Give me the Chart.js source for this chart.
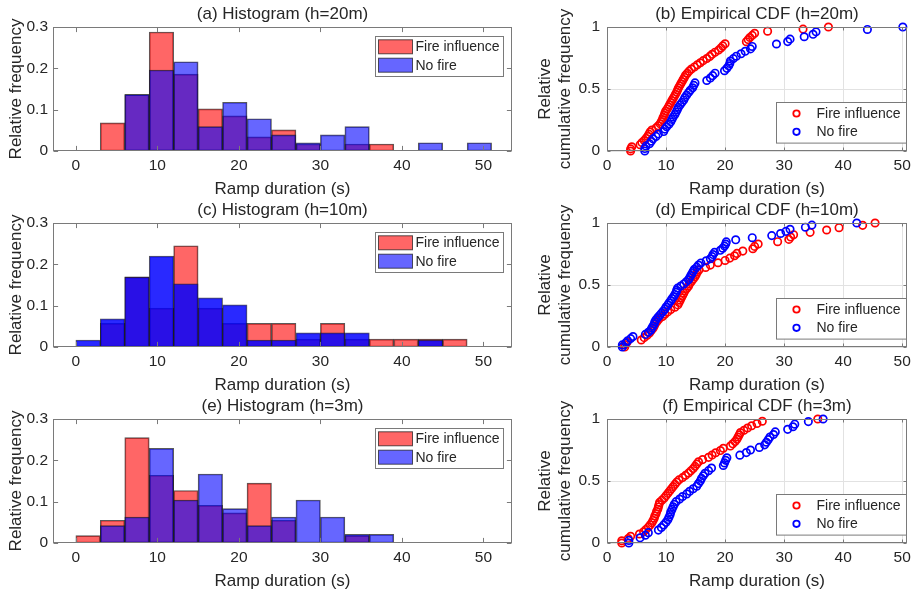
<!DOCTYPE html>
<html>
<head>
<meta charset="utf-8">
<script src="https://cdn.jsdelivr.net/npm/chart.js@4.4.1/dist/chart.umd.min.js"></script>
<style>
  html, body { margin: 0; padding: 0; background: #fff; width: 916px; height: 595px; overflow: hidden; }
  canvas { position: absolute; }
</style>
</head>
<body>
<canvas id="ha" width="520" height="200" style="left:0px;top:0px"></canvas>
<canvas id="hc" width="520" height="200" style="left:0px;top:196px"></canvas>
<canvas id="he" width="520" height="200" style="left:0px;top:392px"></canvas>
<canvas id="cb" width="396" height="200" style="left:520px;top:0px"></canvas>
<canvas id="cd" width="396" height="200" style="left:520px;top:196px"></canvas>
<canvas id="cf" width="396" height="200" style="left:520px;top:392px"></canvas>
<script>
// ---------------- DATA ----------------
const seriesNames = ['Fire influence', 'No fire'];
const binCenters = [1.5, 4.5, 7.5, 10.5, 13.5, 16.5, 19.5, 22.5, 25.5, 28.5, 31.5, 34.5, 37.5, 40.5, 43.5, 46.5, 49.5];
const histTicksX = [0, 10, 20, 30, 40, 50];
const histTicksY = [0, 0.1, 0.2, 0.3];
const cdfTicksX = [0, 10, 20, 30, 40, 50];
const cdfTicksY = [0, 0.5, 1];

// Histograms: relative frequency per 3-s bin
const hist20Fire   = [0, 0.068, 0.136, 0.288, 0.186, 0.102, 0.085, 0.034, 0.051, 0.017, 0, 0.017, 0.017, 0, 0, 0, 0];
const hist20NoFire = [0, 0, 0.137, 0.196, 0.216, 0.059, 0.118, 0.078, 0.039, 0.020, 0.039, 0.059, 0, 0, 0.020, 0, 0.020];
const hist10Fire   = [0, 0.057, 0.170, 0.094, 0.245, 0.094, 0.057, 0.057, 0.057, 0.019, 0.057, 0.019, 0.019, 0.019, 0.019, 0.019, 0];
const hist10NoFire = [0.017, 0.068, 0.169, 0.220, 0.153, 0.119, 0.102, 0.017, 0.017, 0.034, 0.034, 0.034, 0, 0, 0.017, 0, 0];
const hist3Fire    = [0.018, 0.055, 0.255, 0.164, 0.127, 0.091, 0.073, 0.145, 0.055, 0, 0, 0.018, 0, 0, 0, 0, 0];
const hist3NoFire  = [0, 0.042, 0.063, 0.229, 0.104, 0.167, 0.083, 0.042, 0.063, 0.104, 0.063, 0.021, 0.021, 0, 0, 0, 0];

// Empirical CDFs: sorted ramp durations (s)
const cdf20Fire = [4.0, 4.2, 5.6, 5.9,
  6.3, 6.6, 6.9, 7.1, 7.3, 7.6, 8.3, 8.7,
  9.0, 9.2, 9.4, 9.5, 9.7, 9.8, 9.95, 10.2, 10.4, 10.6, 10.8, 11.0, 11.2, 11.4, 11.6, 11.8, 11.95,
  12.1, 12.3, 12.5, 12.7, 12.9, 13.1, 13.3, 13.6, 13.9, 14.3, 14.8,
  15.3, 15.8, 16.3, 16.9, 17.4, 17.8,
  18.3, 18.9, 19.3, 19.6, 20.0,
  23.6, 23.9, 24.2, 24.6, 25.0,
  27.2, 33.2, 37.5];
const cdf20NoFire = [6.4, 6.6, 7.2, 7.5, 7.8, 8.3, 8.7,
  9.6, 9.8, 10.1, 10.5, 10.8, 11.0, 11.2, 11.5, 11.7, 11.9,
  12.1, 12.4, 12.7, 13.0, 13.2, 13.5, 13.8, 14.1, 14.5, 14.7, 14.9,
  16.9, 17.5, 17.9,
  18.3, 19.9, 20.3, 20.6, 20.8, 20.9,
  21.4, 21.9, 22.7, 23.4,
  24.3, 24.6, 28.7, 30.6, 31.0,
  33.4, 34.9, 35.4, 44.1, 50.1];
const cdf10Fire = [3.0, 3.4, 5.8,
  6.3, 6.8, 7.2, 7.5, 7.8, 8.0, 8.2, 8.5, 8.8,
  9.4, 9.8, 10.3, 10.8, 11.5,
  12.0, 12.2, 12.4, 12.6, 12.8, 13.0, 13.2, 13.5, 13.8, 14.0, 14.3, 14.6, 14.9,
  15.1, 15.3, 15.6, 16.7, 17.5,
  18.8, 20.0, 20.8, 21.6, 22.0, 23.0,
  24.7, 25.0, 25.6, 28.9,
  30.8, 31.1, 31.6, 34.4, 37.2, 39.3, 43.3, 45.4];
const cdf10NoFire = [2.6, 3.2, 3.5, 4.0, 4.4,
  6.5, 7.0, 7.4, 7.6, 7.8, 8.0, 8.1, 8.3, 8.6, 8.9,
  9.2, 9.5, 9.8, 10.0, 10.3, 10.5, 10.8, 11.0, 11.3, 11.5, 11.7, 11.8, 11.95,
  12.5, 13.0, 13.4, 13.8, 14.0, 14.2, 14.4, 14.6, 14.8,
  15.2, 15.5, 15.9, 16.8, 17.5, 17.8, 17.95,
  18.2, 19.2, 19.6, 19.9, 20.1, 20.2,
  21.8, 24.6, 27.9, 29.4, 30.3, 31.0, 33.6, 34.7, 42.3];
const cdf3Fire = [2.5, 3.6, 4.0, 5.5,
  6.2, 6.6, 7.0, 7.3, 7.6, 7.8, 8.0, 8.1, 8.3, 8.4, 8.6, 8.7, 8.8, 8.9,
  9.3, 9.7, 10.0, 10.3, 10.6, 10.9, 11.2, 11.5, 11.8,
  12.2, 12.8, 13.3, 13.8, 14.2, 14.6, 14.9,
  15.2, 15.5, 16.2, 17.2, 17.8,
  18.4, 19.2, 19.7, 20.9,
  21.3, 21.7, 22.0, 22.2, 22.4, 22.6, 23.2, 23.8,
  24.5, 25.4, 26.3, 35.7];
const cdf3NoFire = [3.7, 5.6, 6.5, 7.0, 8.7,
  9.2, 9.6, 10.0, 10.3, 10.5, 10.7, 10.8, 11.0, 11.2, 11.4, 11.7,
  12.3, 12.8, 13.5, 14.0, 14.6,
  15.2, 15.5, 15.8, 16.0, 16.3, 16.6, 17.2, 17.7,
  19.7, 19.9, 20.1, 20.3, 22.5, 23.6,
  24.3, 25.8, 26.7, 27.0, 27.3, 27.6, 28.2, 28.5,
  30.6, 31.5, 31.8, 34.1, 36.6];

// ---------------- STYLE ----------------
const FONT = '"Liberation Sans", Arial, Helvetica, sans-serif';
const TEXT = '#262626';
const AXIS = '#7a7a7a';
const RED_FILL = 'rgba(255,0,0,0.6)';
const BLUE_FILL = 'rgba(0,0,255,0.6)';
const BLUE_FILL_DOUBLE = 'rgba(0,0,255,0.84)';
const EDGE = 'rgba(20,20,20,0.7)';
Chart.defaults.font.family = FONT;
Chart.defaults.color = TEXT;

const matlabAxes = {
  id: 'matlabAxes',
  afterDatasetsDraw(chart, args, opts) {
    const { ctx, chartArea: a, scales } = chart;
    const L = Math.round(a.left) + 0.5, R = Math.round(a.right) - 0.5;
    const T = Math.round(a.top) + 0.5, B = Math.round(a.bottom) - 0.5;
    const tl = opts.tickLen;
    ctx.save();
    ctx.strokeStyle = AXIS;
    ctx.lineWidth = 1;
    ctx.beginPath();
    scales.x.ticks.forEach(t => {
      const p = Math.round(scales.x.getPixelForValue(t.value)) + 0.5;
      ctx.moveTo(p, B); ctx.lineTo(p, B - tl);
      ctx.moveTo(p, T); ctx.lineTo(p, T + tl);
    });
    scales.y.ticks.forEach(t => {
      const p = Math.round(scales.y.getPixelForValue(t.value)) + 0.5;
      ctx.moveTo(L, p); ctx.lineTo(L + tl, p);
      ctx.moveTo(R, p); ctx.lineTo(R - tl, p);
    });
    ctx.stroke();
    ctx.strokeRect(L, T, R - L, B - T);
    ctx.restore();
  }
};

const boxLegend = {
  id: 'boxLegend',
  afterDraw(chart, args, opts) {
    const { ctx, chartArea: a } = chart;
    ctx.save();
    let bx, by, bw, bh, rows;
    if (opts.kind === 'patch') {
      bw = 128; bh = 40; bx = a.right - 9 - bw; by = a.top + 9; rows = [10.3, 28.7];
    } else {
      bw = 130; bh = 40.6; bx = a.right - 1 - bw; by = a.bottom - 8.7 - bh; rows = [11, 29.3];
    }
    bx = Math.round(bx) + 0.5; by = Math.round(by) + 0.5;
    ctx.fillStyle = '#ffffff';
    ctx.fillRect(bx, by, bw, bh);
    ctx.strokeStyle = AXIS; ctx.lineWidth = 1;
    ctx.strokeRect(bx, by, bw, bh);
    chart.data.datasets.forEach((ds, i) => {
      const cy = by + rows[i];
      if (opts.kind === 'patch') {
        ctx.fillStyle = ds.legendFill;
        ctx.fillRect(bx + 3, cy - 7, 34, 14);
        ctx.strokeStyle = EDGE;
        ctx.strokeRect(bx + 3, cy - 7, 34, 14);
      } else {
        ctx.beginPath();
        ctx.arc(bx + 20, cy, 3.2, 0, Math.PI * 2);
        ctx.strokeStyle = ds.borderColor; ctx.lineWidth = 1.8;
        ctx.stroke();
      }
      ctx.fillStyle = TEXT;
      ctx.font = '14px ' + FONT;
      ctx.textBaseline = 'middle';
      ctx.textAlign = 'left';
      ctx.fillText(ds.label, bx + 40, cy + 0.5);
    });
    ctx.restore();
  }
};

function ticksFrom(arr) {
  return s => { s.ticks = arr.map(v => ({ value: v })); };
}

function baseOptions(title, xMin, xMax, xTicks, yMin, yMax, yTicks, yWidth, yTitle, yTitlePad, yTickPad, grid, tickLen, legendKind, rightPad) {
  const gridOpt = grid
    ? { display: true, drawTicks: false, color: '#e2e2e2', lineWidth: 1, offset: false }
    : { display: false, drawTicks: false, offset: false };
  return {
    responsive: false,
    animation: false,
    events: [],
    layout: { padding: { top: 4.6, right: rightPad, bottom: 0, left: 0 } },
    plugins: {
      legend: { display: false },
      tooltip: { enabled: false },
      title: { display: true, text: title, fullSize: false, color: TEXT,
               font: { size: 17, weight: 'normal', lineHeight: 1.2 }, padding: { top: 0, bottom: 2 } },
      matlabAxes: { tickLen: tickLen },
      boxLegend: { kind: legendKind }
    },
    scales: {
      x: {
        type: 'linear', min: xMin, max: xMax, offset: false,
        afterBuildTicks: ticksFrom(xTicks),
        afterFit: s => { s.height = 49; },
        grid: gridOpt, border: { display: false },
        ticks: { padding: 5, color: TEXT, font: { size: 15.5, lineHeight: 1.2 }, maxRotation: 0, autoSkip: false, callback: v => String(v) },
        title: { display: true, text: 'Ramp duration (s)', color: TEXT, font: { size: 17, lineHeight: 1.2 }, padding: { top: 0, bottom: 0.8 } }
      },
      y: {
        type: 'linear', min: yMin, max: yMax, offset: false,
        afterBuildTicks: ticksFrom(yTicks),
        afterFit: s => { s.width = yWidth; },
        grid: gridOpt, border: { display: false },
        ticks: { padding: yTickPad, color: TEXT, font: { size: 15.5, lineHeight: 1.2 }, autoSkip: false, callback: v => String(v) },
        title: { display: true, text: yTitle, color: TEXT, font: { size: 17, lineHeight: 1.2 }, padding: { top: yTitlePad, bottom: 0 } }
      }
    }
  };
}

function histChart(id, title, fire, noFire, blueFill) {
  const mk = (vals) => binCenters.map((x, i) => ({ x: x, y: vals[i] > 0 ? vals[i] : null }));
  const common = { borderColor: EDGE, borderWidth: 1, borderSkipped: false, grouped: false, barPercentage: 1, categoryPercentage: 1 };
  return new Chart(document.getElementById(id), {
    type: 'bar',
    data: {
      datasets: [
        Object.assign({ label: seriesNames[0], data: mk(fire), backgroundColor: RED_FILL, legendFill: RED_FILL, order: 2 }, common),
        Object.assign({ label: seriesNames[1], data: mk(noFire), backgroundColor: blueFill, legendFill: BLUE_FILL, order: 1 }, common)
      ]
    },
    options: baseOptions(title, -2.8, 53.5, histTicksX, 0, 0.3, histTicksY, 53, 'Relative frequency', 6, 5, false, 4.6, 'patch', 8),
    plugins: [matlabAxes, boxLegend]
  });
}

function ecdf(xs) {
  const n = xs.length;
  const pts = [{ x: xs[0], y: 0 }];
  xs.forEach((x, i) => pts.push({ x: x, y: (i + 1) / n }));
  return pts;
}

function cdfChart(id, title, fire, noFire) {
  const common = { showLine: false, pointStyle: 'circle', pointRadius: 3.7, pointBorderWidth: 1.7, backgroundColor: 'rgba(0,0,0,0)', pointBackgroundColor: 'rgba(0,0,0,0)', clip: false };
  return new Chart(document.getElementById(id), {
    type: 'scatter',
    data: {
      datasets: [
        Object.assign({ label: seriesNames[0], data: ecdf(fire), borderColor: '#ff0000', pointBorderColor: '#ff0000', order: 2 }, common),
        Object.assign({ label: seriesNames[1], data: ecdf(noFire), borderColor: '#0000ff', pointBorderColor: '#0000ff', order: 1 }, common)
      ]
    },
    options: baseOptions(title, 0, 50.8, cdfTicksX, 0, 1, cdfTicksY, 87, ['Relative', 'cumulative frequency'], 14.8, 7, true, 3, 'marker', 9),
    plugins: [matlabAxes, boxLegend]
  });
}

histChart('ha', '(a) Histogram (h=20m)', hist20Fire, hist20NoFire, BLUE_FILL);
histChart('hc', '(c) Histogram (h=10m)', hist10Fire, hist10NoFire, BLUE_FILL_DOUBLE);
histChart('he', '(e) Histogram (h=3m)', hist3Fire, hist3NoFire, BLUE_FILL);
cdfChart('cb', '(b) Empirical CDF (h=20m)', cdf20Fire, cdf20NoFire);
cdfChart('cd', '(d) Empirical CDF (h=10m)', cdf10Fire, cdf10NoFire);
cdfChart('cf', '(f) Empirical CDF (h=3m)', cdf3Fire, cdf3NoFire);
</script>
</body>
</html>
